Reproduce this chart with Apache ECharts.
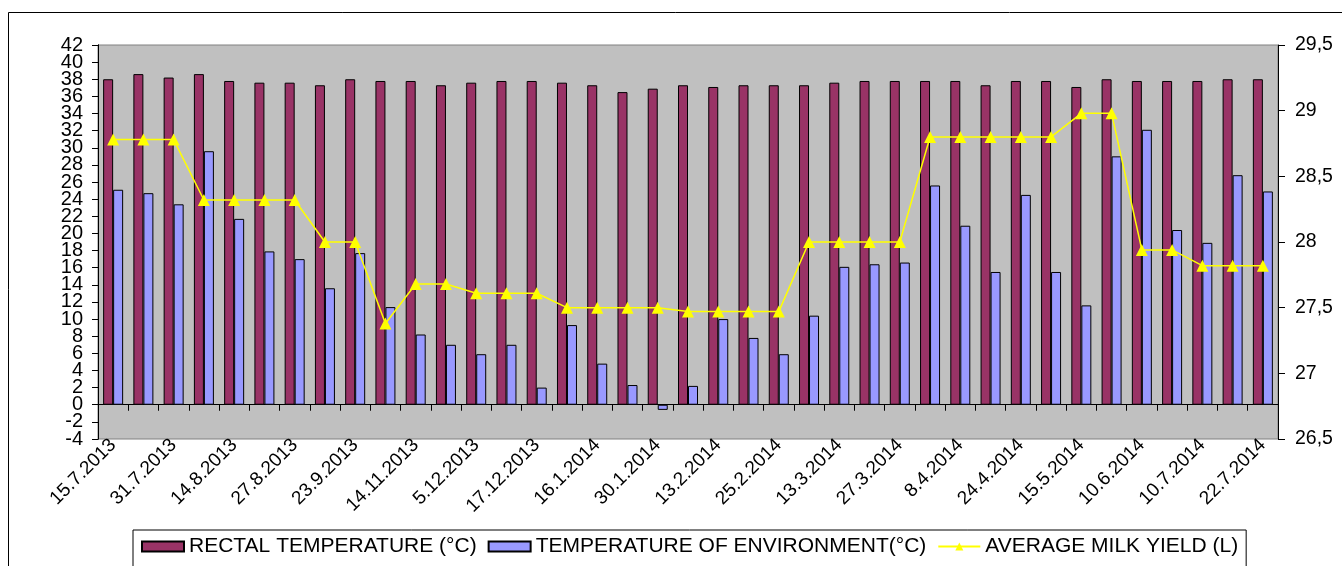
<!DOCTYPE html>
<html>
<head>
<meta charset="utf-8">
<script src="https://cdn.jsdelivr.net/npm/echarts@6/dist/echarts.min.js"></script>
<style>
  html, body { margin: 0; padding: 0; background: #fff; }
  #chart { width: 1342px; height: 566px; }
</style>
</head>
<body>
<div id="chart"></div>
<script>
// only every other date is printed on the axis; the rest stay blank
const dates = [
  '15.7.2013', '', '31.7.2013', '', '14.8.2013', '', '27.8.2013', '', '23.9.2013', '',
  '14.11.2013', '', '5.12.2013', '', '17.12.2013', '', '16.1.2014', '', '30.1.2014', '',
  '13.2.2014', '', '25.2.2014', '', '13.3.2014', '', '27.3.2014', '', '8.4.2014', '',
  '24.4.2014', '', '15.5.2014', '', '10.6.2014', '', '10.7.2014', '', '22.7.2014'
];
const rectalTemp = [
  38.0, 38.6, 38.2, 38.6, 37.8, 37.6, 37.6, 37.3, 38.0, 37.8,
  37.8, 37.3, 37.6, 37.8, 37.8, 37.6, 37.3, 36.5, 36.9, 37.3,
  37.1, 37.3, 37.3, 37.3, 37.6, 37.8, 37.8, 37.8, 37.8, 37.3,
  37.8, 37.8, 37.1, 38.0, 37.8, 37.8, 37.8, 38.0, 38.0
];
const envTemp = [
  25.1, 24.7, 23.4, 29.6, 21.7, 17.9, 17.0, 13.6, 17.7, 11.4,
  8.2, 7.0, 5.9, 7.0, 2.0, 9.3, 4.8, 2.3, -0.6, 2.2,
  10.0, 7.8, 5.9, 10.4, 16.1, 16.4, 16.6, 25.6, 20.9, 15.5,
  24.5, 15.5, 11.6, 29.0, 32.1, 20.4, 18.9, 26.8, 24.9
];
const milkYield = [
  28.78, 28.78, 28.78, 28.32, 28.32, 28.32, 28.32, 28.0, 28.0, 27.38,
  27.68, 27.68, 27.61, 27.61, 27.61, 27.5, 27.5, 27.5, 27.5, 27.47,
  27.47, 27.47, 27.47, 28.0, 28.0, 28.0, 28.0, 28.8, 28.8, 28.8,
  28.8, 28.8, 28.98, 28.98, 27.94, 27.94, 27.82, 27.82, 27.82
];
const tempMin = -4;
const tempMax = 42;

const chart = echarts.init(document.getElementById('chart'));
const sans = "'Liberation Sans', Arial, sans-serif";

const leftAxis = {
  type: 'value',
  position: 'left',
  min: tempMin,
  max: tempMax,
  interval: 2,
  axisLine: { show: true, lineStyle: { color: '#000' } },
  axisTick: { show: true, length: 6, lineStyle: { color: '#000' } },
  splitLine: { show: false }
};

chart.setOption({
  animation: false,
  textStyle: { fontFamily: sans, color: '#000' },
  graphic: [{
    type: 'rect',
    shape: { x: 8.5, y: 12.5, width: 1400, height: 600 },
    style: { fill: 'none', stroke: '#000', lineWidth: 1 },
    silent: true
  }],
  grid: {
    left: 98,
    right: 64,
    top: 45,
    bottom: 127,
    show: true,
    backgroundColor: '#C0C0C0',
    borderColor: '#808080',
    borderWidth: 1,
    outerBoundsMode: 'none'
  },
  legend: {
    left: 133,
    top: 530,
    padding: [6, 8, 20, 8],
    itemWidth: 42,
    itemHeight: 10,
    itemGap: 11,
    borderColor: '#000',
    borderWidth: 1,
    textStyle: { fontFamily: sans, fontSize: 21, color: '#000' },
    data: [
      { name: 'RECTAL TEMPERATURE (°C)', icon: 'rect' },
      { name: 'TEMPERATURE OF ENVIRONMENT(°C)', icon: 'rect' },
      { name: 'AVERAGE MILK YIELD (L)' }
    ]
  },
  xAxis: [{
    type: 'category',
    data: dates,
    position: 'bottom',
    axisLine: { show: false, onZero: false },
    axisTick: { show: false },
    axisLabel: {
      interval: 0,
      rotate: 45,
      margin: 3,
      fontSize: 19,
      color: '#000'
    },
    splitLine: { show: false }
  }, {
    type: 'category',
    data: dates,
    position: 'bottom',
    axisLine: {
      show: true,
      onZero: true,
      onZeroAxisIndex: 0,
      lineStyle: { color: '#000', width: 1 }
    },
    axisTick: { show: true, interval: 0, length: 6, lineStyle: { color: '#000' } },
    axisLabel: { show: false },
    splitLine: { show: false }
  }],
  yAxis: [Object.assign({}, leftAxis, {
    // inner labels; the end ones are drawn by the third axis
    axisLabel: {
      fontSize: 20,
      color: '#000',
      margin: 15,
      showMinLabel: false,
      showMaxLabel: false
    }
  }), {
    type: 'value',
    position: 'right',
    min: 26.5,
    max: 29.5,
    interval: 0.5,
    axisLine: { show: true, lineStyle: { color: '#000' } },
    axisTick: { show: true, length: 7, lineStyle: { color: '#000' } },
    axisLabel: {
      fontSize: 19.5,
      color: '#000',
      margin: 17,
      showMinLabel: true,
      showMaxLabel: true,
      formatter: v => String(v).replace('.', ',')
    },
    splitLine: { show: false }
  }, Object.assign({}, leftAxis, {
    axisLabel: {
      fontSize: 20,
      color: '#000',
      margin: 15,
      showMinLabel: true,
      showMaxLabel: true,
      formatter: v => (v === tempMin || v === tempMax) ? String(v) : ''
    }
  })],
  series: [{
    name: 'RECTAL TEMPERATURE (°C)',
    type: 'bar',
    data: rectalTemp,
    barWidth: 10,
    barGap: 0,
    itemStyle: { color: '#993366', borderColor: '#000', borderWidth: 1 }
  }, {
    name: 'TEMPERATURE OF ENVIRONMENT(°C)',
    type: 'bar',
    data: envTemp,
    barWidth: 10,
    itemStyle: { color: '#9999FF', borderColor: '#000', borderWidth: 1 }
  }, {
    name: 'AVERAGE MILK YIELD (L)',
    type: 'line',
    yAxisIndex: 1,
    data: milkYield,
    symbol: 'triangle',
    symbolSize: 12,
    lineStyle: { color: '#FFFF00', width: 1.5 },
    itemStyle: { color: '#FFFF00' },
    z: 5
  }]
});
</script>
</body>
</html>
